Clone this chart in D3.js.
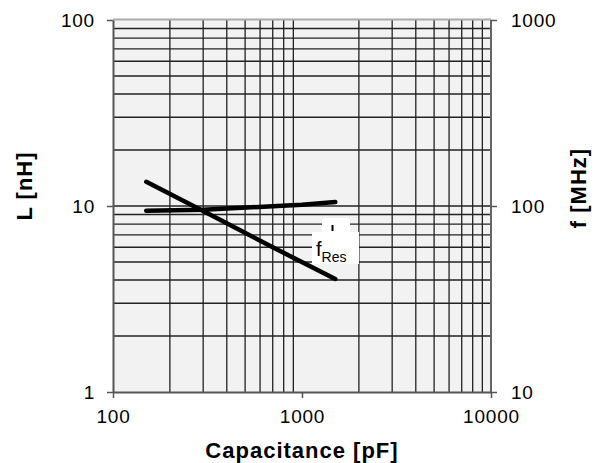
<!DOCTYPE html>
<html>
<head>
<meta charset="utf-8">
<script src="https://cdn.jsdelivr.net/npm/d3@7"></script>
<style>
body { margin: 0; background: #fff; }
text { font-family: "Liberation Sans", Arial, sans-serif; }
</style>
</head>
<body>
<div id="chart"></div>
<script>
// capacitance [pF] for each curve
var capL = [150, 300, 700, 1500];
var inductance = [13.5, 9.4, 6.0, 4.05];       // L [nH]
var capF = [150, 300, 700, 1000, 1500];
var frequency = [94.4, 95.6, 99.6, 101.6, 105]; // fRes [MHz]

var xTicks = [100, 1000, 10000];
var yLeftTicks = [1, 10, 100];
var yRightTicks = [10, 100, 1000];

(function () {
    var width = 595, height = 463;
    var pLeft = 113, pRight = 491, pTop = 20, pBottom = 392;

    var svg = d3.select("#chart").append("svg")
        .attr("width", width).attr("height", height);

    var x = d3.scaleLog().domain([100, 10000]).range([pLeft, pRight]);
    var yL = d3.scaleLog().domain([1, 100]).range([pBottom, pTop]);
    var yR = d3.scaleLog().domain([10, 1000]).range([pBottom, pTop]);

    //Plot background.
    svg.append("rect").attr("x", pLeft).attr("y", pTop)
        .attr("width", pRight - pLeft).attr("height", pBottom - pTop)
        .attr("fill", "#f2f2f2");

    //Grid lines at every 1..9 step of each decade.
    var xGrid = [], yGrid = [];
    for (var d = 100; d < 10000; d *= 10) {
        for (var k = 2; k <= 9; k++) xGrid.push(d * k);
    }
    for (var d = 1; d < 100; d *= 10) {
        for (var k = 1; k <= 9; k++) if (d * k > 1) yGrid.push(d * k);
    }

    svg.append("g").selectAll("line").data(xGrid).enter().append("line")
        .attr("x1", function (d) { return x(d); }).attr("x2", function (d) { return x(d); })
        .attr("y1", pTop).attr("y2", pBottom)
        .attr("stroke", "#222").attr("stroke-width", 1.3);

    svg.append("g").selectAll("line").data(yGrid).enter().append("line")
        .attr("y1", function (d) { return yL(d); }).attr("y2", function (d) { return yL(d); })
        .attr("x1", pLeft).attr("x2", pRight)
        .attr("stroke", "#222").attr("stroke-width", 1.3);

    //Frame.
    svg.append("line").attr("x1", pLeft).attr("x2", pRight).attr("y1", pTop - 0.5).attr("y2", pTop - 0.5)
        .attr("stroke", "#aaa").attr("stroke-width", 2);
    svg.append("line").attr("x1", pRight).attr("x2", pRight).attr("y1", pTop).attr("y2", pBottom)
        .attr("stroke", "#666").attr("stroke-width", 2);

    //Axes.
    var xAxis = d3.axisBottom(x).tickValues(xTicks).tickFormat(d3.format("d"))
        .tickSizeInner(6).tickSizeOuter(0).tickPadding(12);
    var leftAxis = d3.axisLeft(yL).tickValues(yLeftTicks).tickFormat(d3.format("d"))
        .tickSizeInner(6).tickSizeOuter(0).tickPadding(12);
    var rightAxis = d3.axisRight(yR).tickValues(yRightTicks).tickFormat(d3.format("d"))
        .tickSizeInner(6).tickSizeOuter(0).tickPadding(14);

    function style(g) {
        g.attr("font-size", null).attr("font-family", null);
        g.select(".domain").attr("stroke", "#555").attr("stroke-width", 2);
        g.selectAll(".tick line").attr("stroke", "#555").attr("stroke-width", 1.5);
        g.selectAll(".tick text").attr("fill", "#000").style("font-size", "19px")
            .style("letter-spacing", "0.8px");
    }

    svg.append("g").attr("transform", "translate(0," + pBottom + ")").call(xAxis).call(style);
    svg.append("g").attr("transform", "translate(" + pLeft + ",0)").call(leftAxis).call(style);
    svg.append("g").attr("transform", "translate(" + pRight + ",0)").call(rightAxis).call(style)
        .select(".domain").attr("stroke", "none");

    //Curves.
    var lineL = d3.line().x(function (d) { return x(d[0]); }).y(function (d) { return yL(d[1]); });
    var lineF = d3.line().x(function (d) { return x(d[0]); }).y(function (d) { return yR(d[1]); });

    svg.append("path").datum(d3.zip(capL, inductance)).attr("d", lineL)
        .attr("fill", "none").attr("stroke", "#000").attr("stroke-width", 4.5)
        .attr("stroke-linecap", "round");
    svg.append("path").datum(d3.zip(capF, frequency)).attr("d", lineF)
        .attr("fill", "none").attr("stroke", "#000").attr("stroke-width", 4.5)
        .attr("stroke-linecap", "round");

    //fRes label.
    svg.append("rect").attr("x", 322).attr("y", 218).attr("width", 28).attr("height", 15).attr("fill", "#fff");
    svg.append("rect").attr("x", 312).attr("y", 232).attr("width", 47).attr("height", 32).attr("fill", "#fff");
    svg.append("line").attr("x1", 332.5).attr("x2", 332.5).attr("y1", 225).attr("y2", 231)
        .attr("stroke", "#000").attr("stroke-width", 2);
    var lab = svg.append("text").attr("x", 316).attr("y", 256).style("font-size", "20px");
    lab.append("tspan").text("f");
    lab.append("tspan").attr("dy", 6).style("font-size", "14px").text("Res");

    //Axis titles.
    svg.append("text").attr("x", (pLeft + pRight) / 2).attr("y", 458)
        .attr("text-anchor", "middle").style("font-size", "22px").style("font-weight", "bold")
        .style("letter-spacing", "1px")
        .text("Capacitance [pF]");
    svg.append("text").attr("transform", "translate(32,186) rotate(-90)")
        .attr("text-anchor", "middle").style("font-size", "22px").style("font-weight", "bold")
        .style("letter-spacing", "1px")
        .text("L [nH]");
    svg.append("text").attr("transform", "translate(586,188) rotate(-90)")
        .attr("text-anchor", "middle").style("font-size", "22px").style("font-weight", "bold")
        .style("letter-spacing", "1px")
        .text("f [MHz]");
})();
</script>
</body>
</html>
